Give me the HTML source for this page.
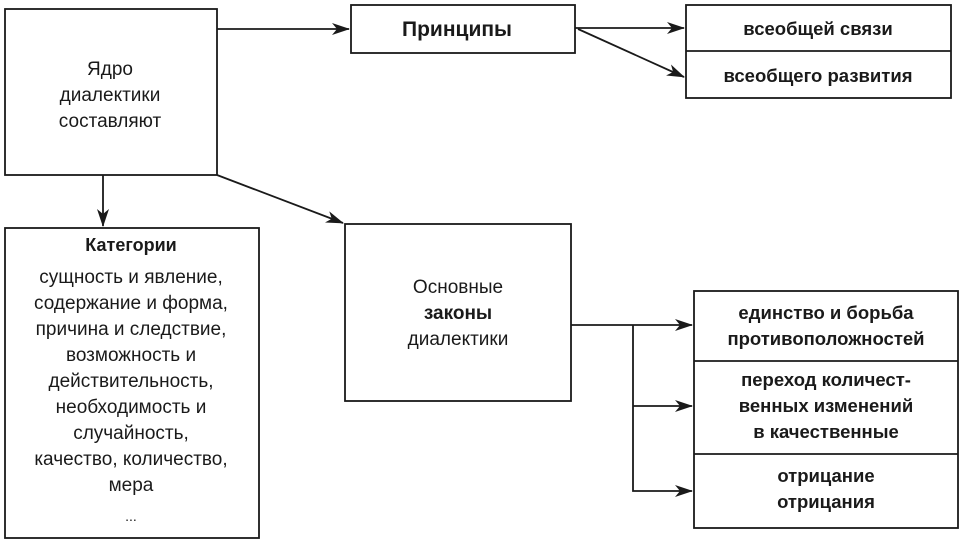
<!DOCTYPE html>
<html><head><meta charset="utf-8"><style>
html,body{margin:0;padding:0;background:#fff;}
svg{display:block;}
text{font-family:"Liberation Sans","DejaVu Sans",sans-serif;fill:#1a1a1a;}
.b{font-weight:bold;}
</style></head><body>
<svg width="966" height="542" viewBox="0 0 966 542" xmlns="http://www.w3.org/2000/svg">
<defs>
<marker id="a" markerWidth="18" markerHeight="12" refX="17" refY="6" orient="auto" markerUnits="userSpaceOnUse">
<path d="M0,0 L18,6 L0,12 L5,6 Z" fill="#1a1a1a"/>
</marker>
</defs>
<g fill="none" stroke="#1a1a1a" stroke-width="1.8">
<rect x="5" y="9" width="212" height="166"/>
<rect x="351" y="5" width="224" height="48"/>
<rect x="686" y="5" width="265" height="93"/>
<line x1="686" y1="51" x2="951" y2="51"/>
<rect x="5" y="228" width="254" height="310"/>
<rect x="345" y="224" width="226" height="177"/>
<rect x="694" y="291" width="264" height="237"/>
<line x1="694" y1="361" x2="958" y2="361"/>
<line x1="694" y1="454" x2="958" y2="454"/>
<line x1="217" y1="29" x2="349" y2="29" marker-end="url(#a)"/>
<line x1="575" y1="28" x2="684" y2="28" marker-end="url(#a)"/>
<line x1="578" y1="29" x2="684" y2="77" marker-end="url(#a)"/>
<line x1="103" y1="175" x2="103" y2="226" marker-end="url(#a)"/>
<line x1="217" y1="175" x2="343" y2="223" marker-end="url(#a)"/>
<line x1="571" y1="325" x2="692" y2="325" marker-end="url(#a)"/>
<polyline points="633,325 633,491 692,491" marker-end="url(#a)"/>
<line x1="633" y1="406" x2="692" y2="406" marker-end="url(#a)"/>
</g>
<g text-anchor="middle" font-size="19">
<text x="110" y="75">Ядро</text>
<text x="110" y="101">диалектики</text>
<text x="110" y="127">составляют</text>
<text x="457" y="36" class="b" font-size="21">Принципы</text>
<text x="818" y="35" class="b" font-size="18.5">всеобщей связи</text>
<text x="818" y="82" class="b" font-size="18.5">всеобщего развития</text>
<text x="131" y="251" class="b" font-size="18">Категории</text>
<text x="131" y="283">сущность и явление,</text>
<text x="131" y="309">содержание и форма,</text>
<text x="131" y="335">причина и следствие,</text>
<text x="131" y="361">возможность и</text>
<text x="131" y="387">действительность,</text>
<text x="131" y="413">необходимость и</text>
<text x="131" y="439">случайность,</text>
<text x="131" y="465">качество, количество,</text>
<text x="131" y="491">мера</text>
<text x="131" y="521" font-size="14">...</text>
<text x="458" y="293">Основные</text>
<text x="458" y="319" class="b">законы</text>
<text x="458" y="345">диалектики</text>
<g class="b" font-size="18.5">
<text x="826" y="319">единство и борьба</text>
<text x="826" y="345">противоположностей</text>
<text x="826" y="386">переход количест-</text>
<text x="826" y="412">венных изменений</text>
<text x="826" y="438">в качественные</text>
<text x="826" y="482">отрицание</text>
<text x="826" y="508">отрицания</text>
</g>
</g>
</svg>
</body></html>
